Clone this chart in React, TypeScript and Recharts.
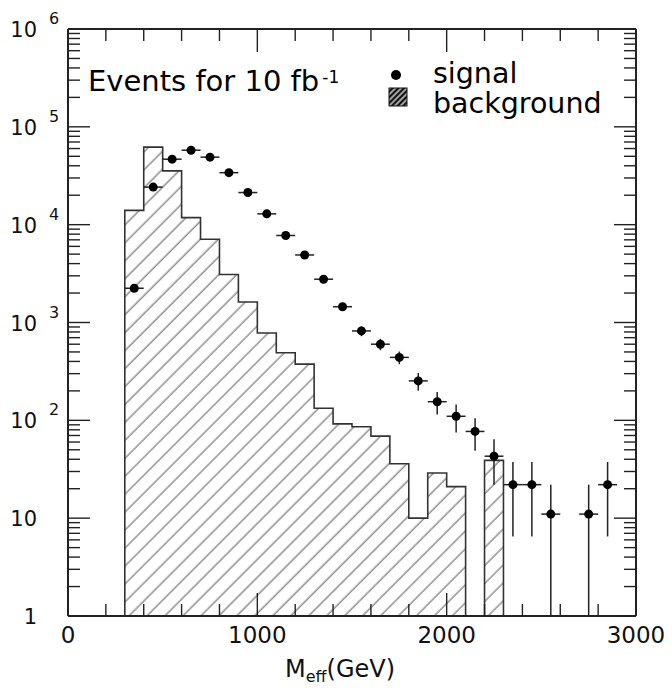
import React from 'react';
import { ComposedChart, Area, Scatter, ErrorBar, XAxis, YAxis } from 'recharts';

// background histogram: lower bin edges and events per 100 GeV bin (null = empty bin)
const bgBinLow = [300, 400, 500, 600, 700, 800, 900, 1000, 1100, 1200, 1300, 1400, 1500, 1600, 1700, 1800, 1900, 2000, 2100, 2200];
const bgCounts: (number | null)[] = [14000, 62000, 35500, 11800, 7100, 3100, 1620, 780, 490, 375, 133, 92, 86, 69, 36, 10, 29, 21, null, 39];
const BIN_WIDTH = 100;
const FLOOR = 1;

// signal points (bin centres) with vertical error bars
const sigMass = [350, 450, 550, 650, 750, 850, 950, 1050, 1150, 1250, 1350, 1450, 1550, 1650, 1750, 1850, 1950, 2050, 2150, 2250, 2350, 2450, 2550, 2750, 2850];
const sigEvents = [2240, 24200, 46700, 57700, 49000, 34000, 21300, 12900, 7750, 4900, 2770, 1450, 820, 600, 440, 253, 155, 110, 77, 43, 22, 22, 11, 11, 22];
const sigErrLow = [155, 520, 720, 800, 730, 610, 480, 380, 290, 230, 175, 125, 95, 80, 65, 52, 40, 35, 28, 21, 15.5, 15.5, 10, 10, 15.5];
const sigErrHigh = [155, 520, 720, 800, 730, 610, 480, 380, 290, 230, 175, 125, 95, 80, 65, 52, 40, 35, 28, 21, 15.5, 15.5, 11, 11, 15.5];

const xTicks = [0, 200, 400, 600, 800, 1000, 1200, 1400, 1600, 1800, 2000, 2200, 2400, 2600, 2800, 3000];
const xMajor = [0, 1000, 2000, 3000];
const yDecades = [1, 10, 100, 1000, 10000, 100000, 1000000];
const yTicks = yDecades.flatMap((d, i) =>
  i === yDecades.length - 1 ? [d] : [1, 2, 3, 4, 5, 6, 7, 8, 9].map((m) => d * m)
);

const bgData: { x: number; bg: number }[] = [];
bgCounts.forEach((c, i) => {
  if (c == null) return;
  const lo = bgBinLow[i];
  const prev = i > 0 ? bgCounts[i - 1] : null;
  const next = i < bgCounts.length - 1 ? bgCounts[i + 1] : null;
  if (prev == null) bgData.push({ x: lo, bg: FLOOR });
  bgData.push({ x: lo, bg: c });
  if (next == null) bgData.push({ x: lo + BIN_WIDTH, bg: FLOOR });
});

const sigData = sigMass.map((x, i) => ({
  x,
  y: sigEvents[i],
  ex: BIN_WIDTH / 2,
  ey: [sigErrLow[i], sigErrHigh[i]],
}));

const INK = '#222';
const LABEL_FONT = '"DejaVu Sans", sans-serif';

const isDecade = (v: number) => yDecades.some((d) => Math.abs(v - d) < d * 1e-6);

const LeftTick = (props: any) => {
  const { x, y, payload } = props;
  const v = payload.value;
  const major = isDecade(v);
  const exp = Math.round(Math.log10(v));
  return (
    <g>
      <line x1={x} y1={y} x2={x + (major ? 22 : 12)} y2={y} stroke={INK} strokeWidth={1.4} />
      {major && (
        <text x={x - 31} y={y + 8} textAnchor="end" fontFamily={LABEL_FONT} fontSize={21} fill="#111">
          {exp === 0 ? '1' : '10'}
        </text>
      )}
      {major && exp > 1 && (
        <text x={x - 19} y={y - 5} fontFamily={LABEL_FONT} fontSize={16} fill="#111">
          {exp}
        </text>
      )}
    </g>
  );
};

const RightTick = (props: any) => {
  const { x, y, payload } = props;
  const major = isDecade(payload.value);
  return <line x1={x} y1={y} x2={x - (major ? 22 : 12)} y2={y} stroke={INK} strokeWidth={1.4} />;
};

const BottomTick = (props: any) => {
  const { x, y, payload } = props;
  const major = xMajor.includes(payload.value);
  return (
    <g>
      <line x1={x} y1={y} x2={x} y2={y - (major ? 23 : 12)} stroke={INK} strokeWidth={1.4} />
      {major && (
        <text x={x} y={y + 27} textAnchor="middle" fontFamily={LABEL_FONT} fontSize={23} fill="#111">
          {payload.value}
        </text>
      )}
    </g>
  );
};

const TopTick = (props: any) => {
  const { x, y, payload } = props;
  const major = xMajor.includes(payload.value);
  return <line x1={x} y1={y} x2={x} y2={y + (major ? 23 : 12)} stroke={INK} strokeWidth={1.4} />;
};

const Dot = (props: any) => <circle cx={props.cx} cy={props.cy} r={4.5} fill="#000" />;

export default function App() {
  const axisLine = { stroke: INK, strokeWidth: 2 };
  return (
    <div style={{ position: 'relative', width: 672, height: 688, background: '#fff' }}>
      <style>{'body{margin:0}'}</style>
      <ComposedChart width={672} height={688} data={bgData} margin={{ top: 28, right: 35, bottom: 0, left: 0 }}>
        <defs>
          <pattern id="hatch" patternUnits="userSpaceOnUse" width={12.7} height={12.7} patternTransform="rotate(45)">
            <line x1={6} y1={0} x2={6} y2={12.7} stroke="#666" strokeWidth={1.1} />
          </pattern>
        </defs>
        <XAxis
          dataKey="x"
          type="number"
          domain={[0, 3000]}
          allowDataOverflow
          ticks={xTicks}
          interval={0}
          height={72}
          tickSize={0}
          tickMargin={0}
          tickLine={false}
          axisLine={axisLine}
          tick={BottomTick}
        />
        <XAxis
          xAxisId="top"
          orientation="top"
          dataKey="x"
          type="number"
          domain={[0, 3000]}
          allowDataOverflow
          ticks={xTicks}
          interval={0}
          height={1}
          tickSize={0}
          tickMargin={0}
          tickLine={false}
          axisLine={axisLine}
          tick={TopTick}
        />
        <YAxis
          type="number"
          scale="log"
          domain={[1, 1000000]}
          allowDataOverflow
          ticks={yTicks}
          interval={0}
          width={68}
          tickSize={0}
          tickMargin={0}
          tickLine={false}
          axisLine={axisLine}
          tick={LeftTick}
        />
        <YAxis
          yAxisId="right"
          orientation="right"
          type="number"
          scale="log"
          domain={[1, 1000000]}
          allowDataOverflow
          ticks={yTicks}
          interval={0}
          width={1}
          tickSize={0}
          tickMargin={0}
          tickLine={false}
          axisLine={axisLine}
          tick={RightTick}
        />
        <Area
          type="stepAfter"
          dataKey="bg"
          baseValue={FLOOR}
          fill="url(#hatch)"
          fillOpacity={1}
          stroke="#333"
          strokeWidth={1.6}
          isAnimationActive={false}
          dot={false}
          activeDot={false}
        />
        <Scatter
          data={sigData}
          dataKey="y"
          xAxisId="top"
          yAxisId="right"
          shape={Dot}
          isAnimationActive={false}
        >
          <ErrorBar dataKey="ex" direction="x" width={0} stroke={INK} strokeWidth={1.5} />
          <ErrorBar dataKey="ey" direction="y" width={0} stroke={INK} strokeWidth={1.5} />
        </Scatter>
      </ComposedChart>
      <svg width={672} height={688} style={{ position: 'absolute', left: 0, top: 0, pointerEvents: 'none' }}>
        <text x={88} y={91} fontFamily={LABEL_FONT} fontSize={29} fill="#000">
          Events for 10 fb
          <tspan dx={3} dy={-8} fontSize={17}>-1</tspan>
        </text>
        <circle cx={396} cy={75} r={5} fill="#000" />
        <defs>
          <pattern id="hatchKey" patternUnits="userSpaceOnUse" width={4} height={4} patternTransform="rotate(45)">
            <rect x={0} y={0} width={4} height={4} fill="#111" />
            <line x1={2} y1={0} x2={2} y2={4} stroke="#fff" strokeWidth={1.2} />
          </pattern>
        </defs>
        <rect x={389} y={88} width={18} height={18} fill="url(#hatchKey)" stroke="#111" strokeWidth={1} />
        <text x={433} y={83} fontFamily={LABEL_FONT} fontSize={28.5} fill="#000">signal</text>
        <text x={433} y={113} fontFamily={LABEL_FONT} fontSize={28.5} fill="#000">background</text>
        <text x={285} y={677} fontFamily={LABEL_FONT} fontSize={24} fill="#111">
          M
          <tspan dy={5} fontSize={16}>eff</tspan>
          <tspan dy={-5} fontSize={24}>(GeV)</tspan>
        </text>
      </svg>
    </div>
  );
}
